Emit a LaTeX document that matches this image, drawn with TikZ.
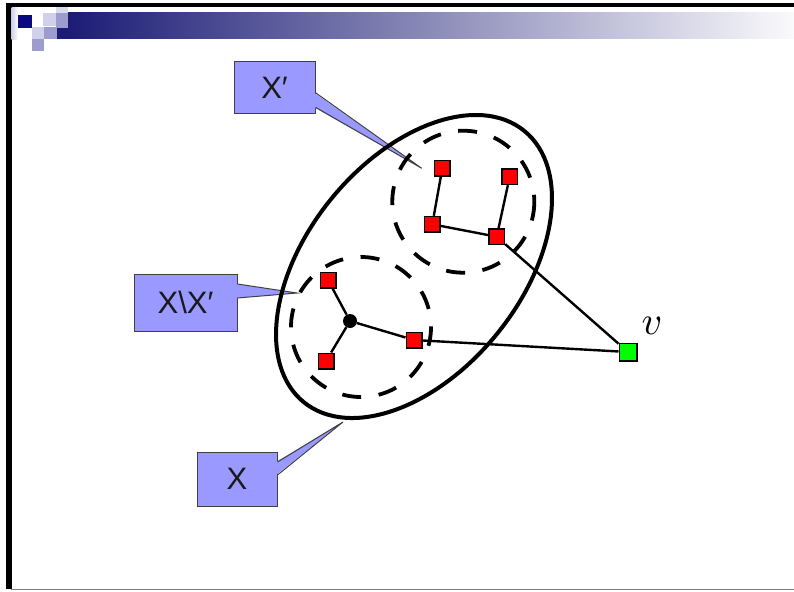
\documentclass[tikz,border=0pt]{standalone}
\usepackage{fontspec}
\newfontfamily\calfont{Liberation Sans}
\usetikzlibrary{calc}
\definecolor{navyA}{RGB}{28,28,118}
\definecolor{navyB}{RGB}{10,10,128}
\definecolor{midg}{RGB}{165,165,185}
\definecolor{endg}{RGB}{250,250,252}
\definecolor{lavA}{RGB}{208,208,234}
\definecolor{lavB}{RGB}{156,156,206}
\definecolor{calfill}{RGB}{153,153,255}
\definecolor{calline}{RGB}{64,64,64}
\definecolor{vgreen}{RGB}{0,255,0}
\tikzset{
  callbox/.style={draw=calline, line width=1pt, fill=calfill, inner sep=0pt,
    font=\calfont\fontsize{31}{31}\selectfont, text=black!90},
  wedgeline/.style={draw=calline, line width=1pt, line join=miter},
  redsq/.style={draw=black, line width=1.5pt, fill=red, minimum size=15.5pt, inner sep=0pt},
  greensq/.style={draw=black, line width=1.5pt, fill=vgreen, minimum size=17.5pt, inner sep=0pt},
  hubdot/.style={circle, fill=black, minimum size=14pt, inner sep=0pt},
  edgeline/.style={draw=black, line width=2.4pt},
  outerset/.style={draw=black, line width=4pt},
  subset/.style={draw=black, line width=3.8pt, dash pattern=on 19pt off 17.6pt},
}
\begin{document}
\begin{tikzpicture}[x=1pt,y=-1pt]
\useasboundingbox (0,0) rectangle (794,591);
\fill[white] (0,0) rectangle (794,591);
% frame
\fill[black] (6,3) rectangle (794,7.5);
\fill[black] (6,3) rectangle (11.5,589);
\draw[gray, line width=1.2pt] (11,589.6) -- (794,589.6);
% logo
\shade[left color=lavA, right color=white] (11.5,7.5) rectangle (18,40);
\fill[navyB] (18,15) rectangle (32,28);
\fill[lavA] (43,13) rectangle (56,26);
\fill[lavA!80] (56,7.5) rectangle (68,13);
\fill[lavB] (56,13) rectangle (68,28);
\fill[lavA] (32,27) rectangle (44,39);
\fill[lavB] (44,27) rectangle (57,39);
\fill[lavB] (32,39) rectangle (44,51);
\fill[navyA] (57,28) rectangle (68.5,39);
\shade[left color=navyA, middle color=midg, right color=endg] (68,13) rectangle (794,39);
% callouts
\coordinate (tipA) at (421.7,168.3);
\coordinate (tipB) at (297,293);
\coordinate (tipC) at (343,422);
\node[callbox, minimum width=81pt, minimum height=52pt] (cA) at (274.5,88) {X′};
\fill[calfill] (314,92.7) -- (tipA) -- (314,107.3) -- cycle;
\draw[wedgeline] (cA.east |- 0,92.7) -- (tipA) -- (cA.east |- 0,107.3);
\node[callbox, minimum width=103pt, minimum height=57pt] (cB) at (185.5,302.5) {X\textbackslash X′};
\fill[calfill] (236,284) -- (tipB) -- (236,298) -- cycle;
\draw[wedgeline] (cB.east |- 0,284) -- (tipB) -- (cB.east |- 0,298);
\node[callbox, minimum width=80pt, minimum height=54pt] (cC) at (237,479) {X};
\fill[calfill] (276,462) -- (tipC) -- (276,475) -- cycle;
\draw[wedgeline] (cC.east |- 0,462) -- (tipC) -- (cC.east |- 0,475);
% sets
\draw[outerset, rotate around={50.9:(414,266.5)}] (414,266.5) ellipse [x radius=174.8, y radius=106.9];
\draw[subset] (463.3,201.7) circle [radius=71];
\draw[subset] (361,327) circle [radius=70];
% vertices
\node[redsq] (a1) at (442.3,168.3) {};
\node[redsq] (a2) at (509.7,176.7) {};
\node[redsq] (a3) at (432.3,224.3) {};
\node[redsq] (a4) at (496.7,236.7) {};
\node[redsq] (b1) at (328,280) {};
\node[hubdot] (h) at (350,321) {};
\node[redsq] (b2) at (326,361) {};
\node[redsq] (b3) at (414,340) {};
\node[greensq] (v) at (628,352) {};
\node[scale=4, inner sep=0pt] (vl) at (652,326) {$v$};
% edges
\draw[edgeline] (a1) -- (a3);
\draw[edgeline] (a2) -- (a4);
\draw[edgeline] (a3) -- (a4);
\draw[edgeline] (a4) -- (v);
\draw[edgeline] (h) -- (b1);
\draw[edgeline] (h) -- (b2);
\draw[edgeline] (h) -- (b3);
\draw[edgeline] (b3) -- (v);
\end{tikzpicture}
\end{document}
